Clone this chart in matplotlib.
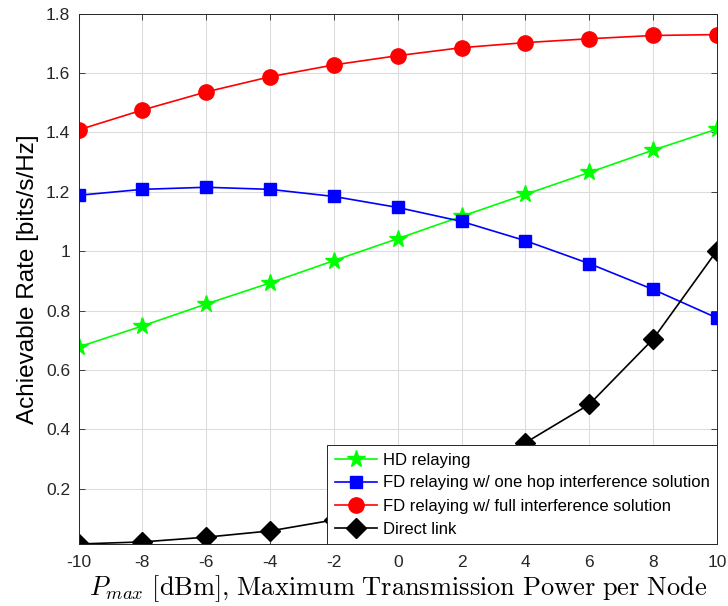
import matplotlib
matplotlib.use("Agg")
import matplotlib.pyplot as plt

x = [-10, -8, -6, -4, -2, 0, 2, 4, 6, 8, 10]
hd = [0.677, 0.748, 0.822, 0.893, 0.968, 1.042, 1.117, 1.191, 1.265, 1.340, 1.411]
fd_one = [1.188, 1.208, 1.215, 1.208, 1.184, 1.147, 1.100, 1.035, 0.958, 0.871, 0.775]
fd_full = [1.408, 1.475, 1.536, 1.587, 1.627, 1.658, 1.685, 1.702, 1.715, 1.726, 1.729]
direct = [0.014, 0.021, 0.037, 0.058, 0.095, 0.150, 0.230, 0.355, 0.484, 0.704, 1.002]

xticks = [-10, -8, -6, -4, -2, 0, 2, 4, 6, 8, 10]
yticks = [0.2, 0.4, 0.6, 0.8, 1.0, 1.2, 1.4, 1.6, 1.8]
ytick_labels = ["0.2", "0.4", "0.6", "0.8", "1", "1.2", "1.4", "1.6", "1.8"]

plt.rcParams['font.family'] = ['Liberation Sans', 'DejaVu Sans']
plt.rcParams['mathtext.fontset'] = 'cm'

fig = plt.figure(figsize=(7.28, 6.06), dpi=100)
ax = fig.add_axes([78.5/728, 1 - 544/606, (717-78.5)/728, (544-13.5)/606])

ax.plot(x, hd, '-', color='#00ff00', marker='*', markersize=13, lw=1.2,
        label='HD relaying')
ax.plot(x, fd_one, '-', color='#0000ff', marker='s', markersize=8.5, lw=1.2,
        label='FD relaying w/ one hop interference solution')
ax.plot(x, fd_full, '-', color='#ff0000', marker='o', markersize=11, lw=1.2,
        label='FD relaying w/ full interference solution')
ax.plot(x, direct, '-', color='black', marker='D', markersize=10, lw=1.2,
        label='Direct link')

ax.set_xlim(-10, 10)
ax.set_ylim(min(direct), 1.8)
ax.set_xticks(xticks)
ax.set_xticklabels([str(v) for v in xticks])
ax.set_yticks(yticks)
ax.set_yticklabels(ytick_labels)
ax.tick_params(direction='in', labelsize=12.5, colors='#262626', top=True, right=True,
               length=4, width=0.6, pad=6)
ax.tick_params(axis='x', pad=8)
ax.grid(True, color='#dcdcdc', lw=0.8)
ax.set_axisbelow(True)
for s in ax.spines.values():
    s.set_color('#262626')
    s.set_linewidth(0.7)

ax.set_ylabel('Achievable Rate [bits/s/Hz]', fontsize=17.5, color='black', labelpad=5)
ax.set_xlabel(r'$P_{max}\ \mathrm{[dBm]{,}\ Maximum\ Transmission\ Power\ per\ Node}$',
              fontsize=19, labelpad=2)

leg = ax.legend(loc='lower right', fontsize=12, frameon=True, fancybox=False,
                borderaxespad=0, handlelength=2.5, handletextpad=0.36,
                labelspacing=0.48, borderpad=0.45)
leg.get_frame().set_edgecolor('#262626')
leg.get_frame().set_linewidth(0.7)
leg.get_frame().set_alpha(1)

fig.savefig('out.png', dpi=100)
